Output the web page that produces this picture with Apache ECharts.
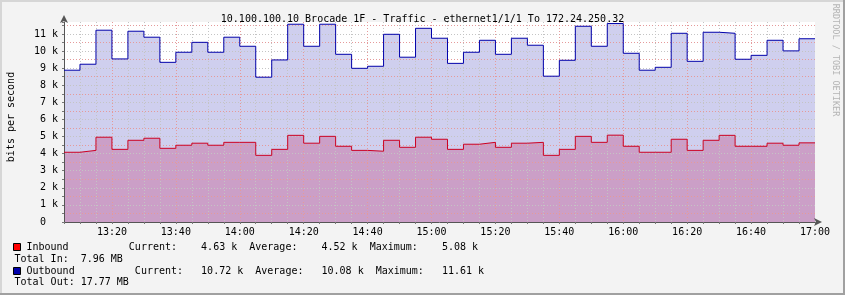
<!DOCTYPE html>
<html><head><meta charset="utf-8">
<script src="https://cdn.jsdelivr.net/npm/echarts@6/dist/echarts.min.js"></script>
<style>html,body{margin:0;padding:0;background:#f3f3f3}#c{width:845px;height:295px}</style>
</head><body><div id="c"></div>
<script>
const titleText = '10.100.100.10 Brocade 1F - Traffic - ethernet1/1/1 To 172.24.250.32';
// interval boundaries (5 min steps)
const times = ['13:05','13:10','13:15','13:20','13:25','13:30','13:35','13:40','13:45','13:50','13:55','14:00',
  '14:05','14:10','14:15','14:20','14:25','14:30','14:35','14:40','14:45','14:50','14:55','15:00',
  '15:05','15:10','15:15','15:20','15:25','15:30','15:35','15:40','15:45','15:50','15:55','16:00',
  '16:05','16:10','16:15','16:20','16:25','16:30','16:35','16:40','16:45','16:50','16:55','17:00'];
// values in k bits/s per interval
const inbound = [4.08,4.19,4.96,4.25,4.78,4.90,4.31,4.49,4.61,4.49,4.66,4.66,
  3.90,4.25,5.07,4.61,5.01,4.43,4.19,4.14,4.78,4.37,4.96,4.84,
  4.25,4.55,4.66,4.37,4.61,4.66,3.90,4.25,5.01,4.66,5.08,4.43,
  4.08,4.08,4.84,4.19,4.78,5.07,4.43,4.43,4.61,4.49,4.63];
const outbound = [8.88,9.23,11.22,9.54,11.16,10.81,9.34,9.93,10.51,9.93,10.81,10.28,
  8.47,9.48,11.57,10.28,11.57,9.81,8.99,9.11,10.98,9.64,11.33,10.75,
  9.28,9.93,10.63,9.81,10.75,10.34,8.53,9.46,11.45,10.28,11.61,9.87,
  8.88,9.05,11.04,9.40,11.10,11.04,9.52,9.75,10.63,10.01,10.72];
const xTickLabels = ['13:20','13:40','14:00','14:20','14:40','15:00','15:20','15:40','16:00','16:20','16:40','17:00'];
const yTickLabels = ['0  ','1 k','2 k','3 k','4 k','5 k','6 k','7 k','8 k','9 k','10 k','11 k'];
const legendIn = 'Inbound          Current:    4.63 k  Average:    4.52 k  Maximum:    5.08 k';
const legendInTotal = 'Total In:  7.96 MB';
const legendOut = 'Outbound          Current:   10.72 k  Average:   10.08 k  Maximum:   11.61 k';
const legendOutTotal = 'Total Out: 17.77 MB';
const yName = 'bits per second';
const sideText = 'RRDTOOL / TOBI OETIKER';

const toMin = s => { const p = s.split(':'); return (+p[0]) * 60 + (+p[1]); };
const build = vals => times.map((t, i) => [toMin(t), vals[Math.min(i, vals.length - 1)]]);
const MONO = 'DejaVu Sans Mono';

const chart = echarts.init(document.getElementById('c'), null, {renderer: 'canvas'});
const GREY = '#c4c4c4', RED = '#e59a9a';
chart.setOption({
  animation: false,
  backgroundColor: '#f3f3f3',
  title: {text: titleText, left: 'center', top: 9, textStyle: {fontFamily: MONO, fontSize: 10, fontWeight: 'normal', color: '#000'}},
  grid: {left: 64, top: 22, width: 751, height: 200, show: true, backgroundColor: '#ffffff', borderWidth: 0},
  xAxis: {
    type: 'value', min: toMin(times[0]), max: toMin(times[times.length - 1]), interval: 5, z: 3,
    axisLine: {show: true, onZero: false, lineStyle: {color: '#555', width: 1}, symbol: ['none', 'arrow'], symbolSize: [6, 8], symbolOffset: [0, 7]},
    axisTick: {show: true, length: 2, lineStyle: {color: '#777'}},
    axisLabel: {fontFamily: MONO, fontSize: 10, color: '#000', margin: 5,
      formatter: v => { const i = xTickLabels.findIndex(l => toMin(l) === Math.round(v)); return i >= 0 ? xTickLabels[i] : ''; }},
    splitLine: {show: true, showMaxLine: false, lineStyle: {color: [GREY, GREY, GREY, RED], type: [1, 2], width: 1}}
  },
  yAxis: {
    type: 'value', min: 0, max: 11.7, interval: 0.5, z: 3,
    axisLine: {show: true, lineStyle: {color: '#555', width: 1}, symbol: ['none', 'arrow'], symbolSize: [6, 8], symbolOffset: [0, 7]},
    axisTick: {show: true, length: 2, lineStyle: {color: '#777'}},
    axisLabel: {fontFamily: MONO, fontSize: 10, color: '#000', margin: 6,
      formatter: v => { const r = Math.round(v); return Math.abs(v - r) < 1e-6 && yTickLabels[r] !== undefined ? yTickLabels[r] : ''; }},
    splitLine: {show: true, showMinLine: false, showMaxLine: false, lineStyle: {color: [RED, GREY], type: [1, 2], width: 1}}
  },
  series: [
    {type: 'line', name: 'Outbound area', step: 'end', data: build(outbound), symbol: 'none', z: 1,
      lineStyle: {width: 0}, areaStyle: {color: '#cfcfee', opacity: 1}},
    {type: 'line', name: 'Inbound area', step: 'end', data: build(inbound), symbol: 'none', z: 1,
      lineStyle: {width: 0}, areaStyle: {color: '#cb9fc7', opacity: 1}},
    {type: 'line', name: 'Outbound', step: 'end', data: build(outbound), symbol: 'none', z: 4,
      lineStyle: {width: 1, color: '#0000aa'}},
    {type: 'line', name: 'Inbound', step: 'end', data: build(inbound), symbol: 'none', z: 4,
      lineStyle: {width: 1, color: '#cc0022'}}
  ],
  graphic: [
    {type: 'rect', shape: {x: 0, y: 0, width: 845, height: 2}, style: {fill: '#d6d6d6'}, silent: true},
    {type: 'rect', shape: {x: 0, y: 0, width: 2, height: 295}, style: {fill: '#d6d6d6'}, silent: true},
    {type: 'rect', shape: {x: 843, y: 0, width: 2, height: 295}, style: {fill: '#a0a0a0'}, silent: true},
    {type: 'rect', shape: {x: 0, y: 293, width: 845, height: 2}, style: {fill: '#a0a0a0'}, silent: true},
    {type: 'text', x: 11, y: 117, rotation: Math.PI / 2, style: {text: yName, fontFamily: MONO, fontSize: 10, fill: '#000', align: 'center', verticalAlign: 'middle'}},
    {type: 'text', x: 835, y: 60, rotation: -Math.PI / 2, style: {text: sideText, fontFamily: MONO, fontSize: 8.5, fill: '#b4b4b4', align: 'center', verticalAlign: 'middle'}},
    {type: 'rect', shape: {x: 13.5, y: 243.5, width: 7, height: 7}, style: {fill: '#ff0000', stroke: '#000', lineWidth: 1}},
    {type: 'rect', shape: {x: 13.5, y: 267.5, width: 7, height: 7}, style: {fill: '#0000aa', stroke: '#000', lineWidth: 1}},
    {type: 'text', x: 26.5, y: 247, style: {text: legendIn, fontFamily: MONO, fontSize: 10, fill: '#000', verticalAlign: 'middle'}},
    {type: 'text', x: 14.5, y: 259, style: {text: legendInTotal, fontFamily: MONO, fontSize: 10, fill: '#000', verticalAlign: 'middle'}},
    {type: 'text', x: 26.5, y: 271, style: {text: legendOut, fontFamily: MONO, fontSize: 10, fill: '#000', verticalAlign: 'middle'}},
    {type: 'text', x: 14.5, y: 282.5, style: {text: legendOutTotal, fontFamily: MONO, fontSize: 10, fill: '#000', verticalAlign: 'middle'}}
  ]
});
</script></body></html>
